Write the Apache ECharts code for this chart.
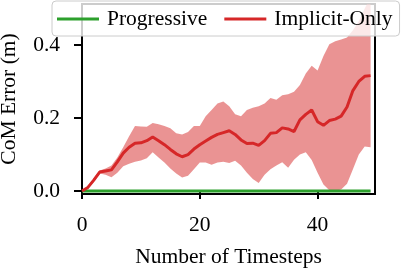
<!DOCTYPE html>
<html>
<head>
<meta charset="utf-8">
<script src="https://cdn.jsdelivr.net/npm/echarts@6/dist/echarts.min.js"></script>
<style>html,body{margin:0;padding:0;background:#fff}#c{width:407px;height:269px}</style>
</head>
<body>
<div id="c"></div>
<script>
var timesteps = [];
for (var i = 0; i < 50; i++) timesteps.push(i);

var progressive = [0,0,0,0,0,0,0,0,0,0,0,0,0,0,0,0,0,0,0,0,0,0,0,0,0,0,0,0,0,0,0,0,0,0,0,0,0,0,0,0,0,0,0,0,0,0,0,0,0,0];

var implicitMean = [0,0.01,0.03,0.052,0.055,0.058,0.08,0.104,0.12,0.131,
  0.132,0.138,0.148,0.138,0.127,0.114,0.102,0.094,0.1,0.115,
  0.127,0.137,0.147,0.155,0.16,0.165,0.155,0.14,0.13,0.131,
  0.125,0.138,0.158,0.16,0.173,0.17,0.163,0.195,0.21,0.222,
  0.19,0.18,0.193,0.197,0.205,0.23,0.275,0.3,0.314,0.316];

var implicitUpper = [0,0.012,0.035,0.056,0.062,0.07,0.092,0.12,0.15,0.178,
  0.177,0.176,0.186,0.183,0.178,0.172,0.158,0.155,0.162,0.178,
  0.178,0.205,0.222,0.24,0.245,0.232,0.21,0.205,0.222,0.228,
  0.232,0.24,0.255,0.25,0.262,0.265,0.272,0.29,0.322,0.343,
  0.33,0.37,0.402,0.41,0.415,0.42,0.44,0.465,0.5,0.53];

var implicitLower = [0,0.008,0.025,0.048,0.045,0.038,0.05,0.068,0.075,0.08,
  0.084,0.09,0.106,0.092,0.078,0.062,0.048,0.037,0.042,0.06,
  0.078,0.078,0.072,0.078,0.08,0.077,0.083,0.07,0.05,0.033,
  0.022,0.045,0.06,0.07,0.079,0.064,0.086,0.1,0.106,0.085,
  0.05,0.018,0.002,0,0.004,0.02,0.06,0.1,0.122,0.12];

var xTicks = [0, 20, 40];
var yTicks = [0, 0.2, 0.4];

var FONT = 'Liberation Serif';
var pair = function (xs, ys) { return xs.map(function (x, i) { return [x, ys[i]]; }); };

var chart = echarts.init(document.getElementById('c'), null, {renderer: 'canvas'});
chart.setOption({
  animation: false,
  backgroundColor: '#ffffff',
  grid: {left: 82, right: 32, top: 4, bottom: 75, show: true, borderColor: '#000', borderWidth: 2,
    backgroundColor: 'transparent', containLabel: false, outerBoundsMode: 'none'},
  legend: {
    left: 52, top: 1,
    data: ['Progressive', 'Implicit-Only'],
    icon: 'rect',
    padding: [7, 7, 6, 5],
    itemWidth: 42, itemHeight: 3, itemGap: 17,
    borderRadius: 4, borderColor: '#cccccc', borderWidth: 1,
    backgroundColor: 'rgba(255,255,255,0.8)',
    textStyle: {fontFamily: FONT, fontSize: 21.5, color: '#000', lineHeight: 22, padding: [0, 0, 0, 3]}
  },
  xAxis: {
    type: 'value', min: 0, max: 49.75,
    name: 'Number of Timesteps', nameLocation: 'middle', nameGap: 52,
    nameTextStyle: {fontFamily: FONT, fontSize: 21.5, color: '#000'},
    axisLine: {show: false},
    axisTick: {show: true, length: 8, lineStyle: {color: '#000', width: 2}, customValues: xTicks},
    axisLabel: {fontFamily: FONT, fontSize: 21.5, color: '#000', margin: 20, customValues: xTicks},
    splitLine: {show: false}
  },
  yAxis: {
    type: 'value', min: -0.008, max: 0.512,
    name: 'CoM Error (m)', nameLocation: 'middle', nameGap: 62,
    nameTextStyle: {fontFamily: FONT, fontSize: 21.5, color: '#000'},
    axisLine: {show: false},
    axisTick: {show: true, length: 8, lineStyle: {color: '#000', width: 2}, customValues: yTicks},
    axisLabel: {fontFamily: FONT, fontSize: 21.5, color: '#000', margin: 22, customValues: yTicks,
      formatter: function (v) { return v.toFixed(1); }},
    splitLine: {show: false}
  },
  series: [
    {
      name: 'band', type: 'custom', silent: true, clip: true, z: 1,
      data: pair(timesteps, implicitMean),
      encode: {x: 0, y: 1},
      renderItem: function (params, api) {
        if (params.dataIndex !== 0) return null;
        var pts = [];
        for (var k = 0; k < timesteps.length; k++) pts.push(api.coord([timesteps[k], implicitUpper[k]]));
        for (var k2 = timesteps.length - 1; k2 >= 0; k2--) pts.push(api.coord([timesteps[k2], implicitLower[k2]]));
        return {type: 'polygon', shape: {points: pts}, style: {fill: 'rgba(214,39,40,0.5)', stroke: 'none'}};
      }
    },
    {
      name: 'Progressive', type: 'line', symbol: 'none',
      data: pair(timesteps, progressive),
      lineStyle: {color: '#2ca02c', width: 3}, itemStyle: {color: '#2ca02c'}, z: 3
    },
    {
      name: 'Implicit-Only', type: 'line', symbol: 'none',
      data: pair(timesteps, implicitMean),
      lineStyle: {color: '#d62728', width: 3}, itemStyle: {color: '#d62728'}, z: 4
    }
  ]
});
</script>
</body>
</html>
